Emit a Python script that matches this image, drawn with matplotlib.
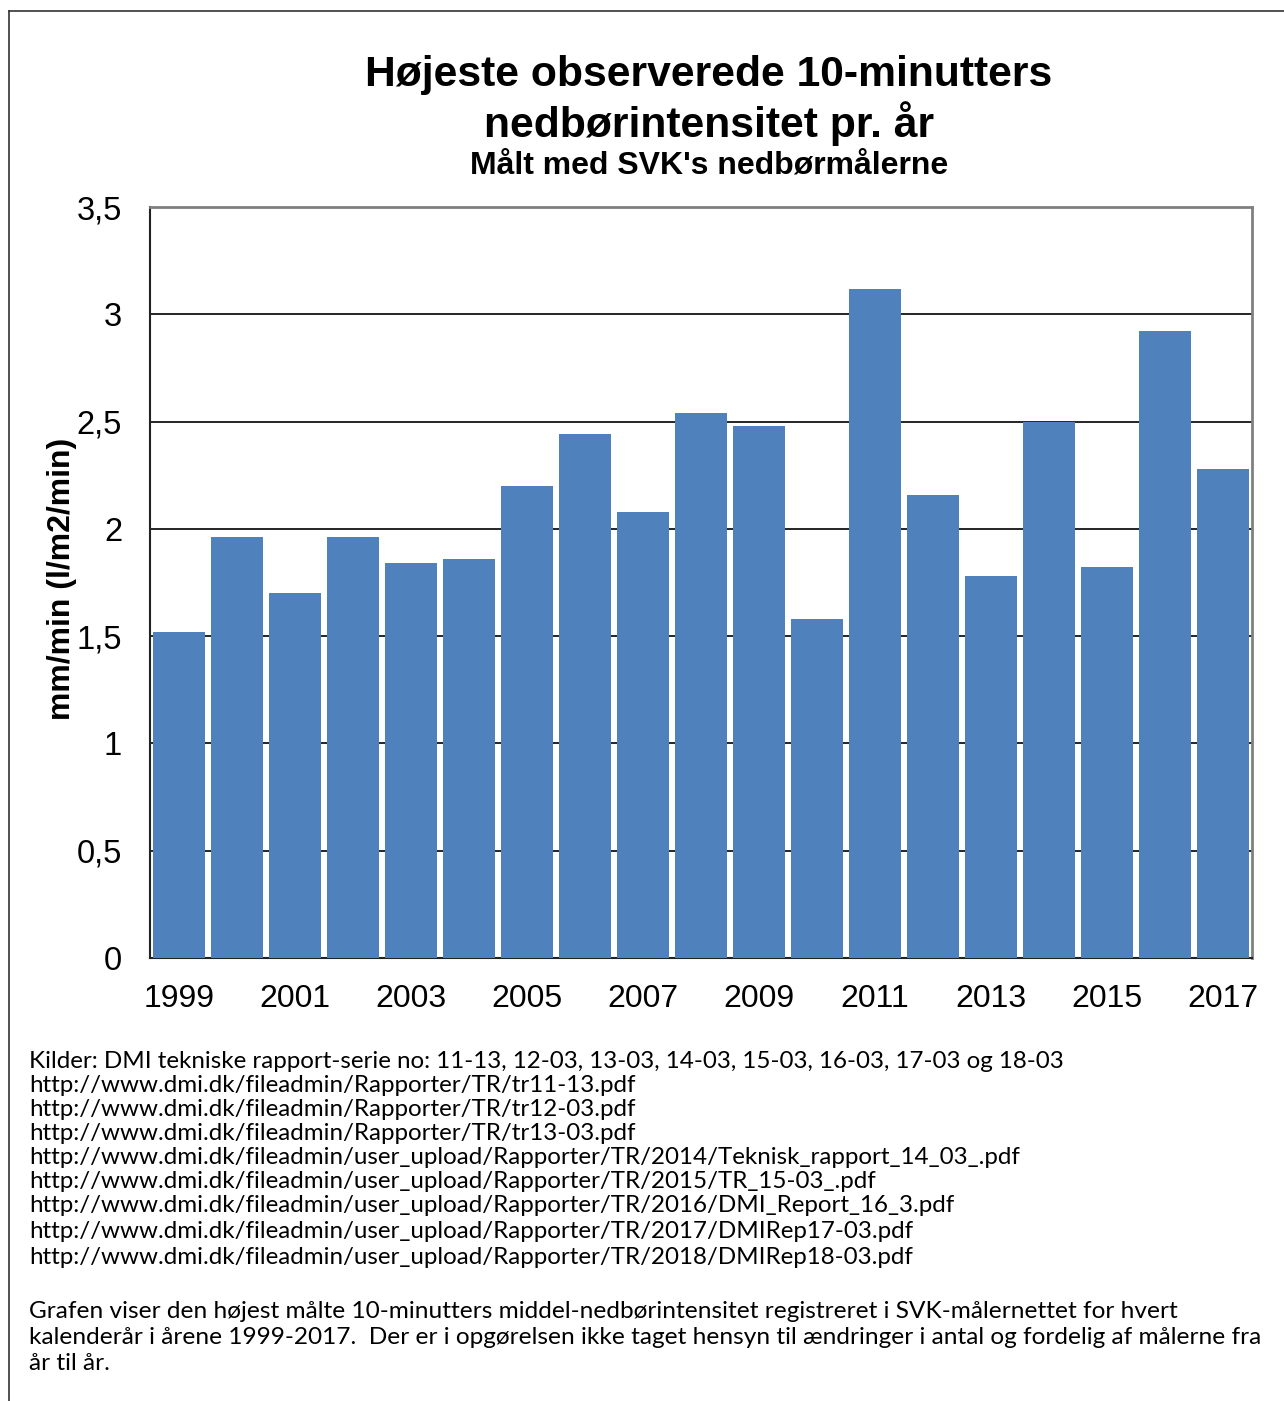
import matplotlib
matplotlib.use("Agg")
import matplotlib.pyplot as plt
from matplotlib.lines import Line2D

# data
years = list(range(1999, 2018))
values = [1.52, 1.96, 1.70, 1.96, 1.84, 1.86, 2.20, 2.44, 2.08, 2.54,
          2.48, 1.58, 3.12, 2.16, 1.78, 2.50, 1.82, 2.92, 2.28]
yticks = [0, 0.5, 1, 1.5, 2, 2.5, 3, 3.5]
ytick_labels = ["0", "0,5", "1", "1,5", "2", "2,5", "3", "3,5"]

title_lines = ["Højeste observerede 10-minutters", "nedbørintensitet pr. år"]
subtitle = "Målt med SVK's nedbørmålerne"
ylabel = "mm/min (l/m2/min)"

source_lines = [
    "Kilder: DMI tekniske rapport-serie no: 11-13, 12-03, 13-03, 14-03, 15-03, 16-03, 17-03 og 18-03",
    "http://www.dmi.dk/fileadmin/Rapporter/TR/tr11-13.pdf",
    "http://www.dmi.dk/fileadmin/Rapporter/TR/tr12-03.pdf",
    "http://www.dmi.dk/fileadmin/Rapporter/TR/tr13-03.pdf",
    "http://www.dmi.dk/fileadmin/user_upload/Rapporter/TR/2014/Teknisk_rapport_14_03_.pdf",
    "http://www.dmi.dk/fileadmin/user_upload/Rapporter/TR/2015/TR_15-03_.pdf",
    "http://www.dmi.dk/fileadmin/user_upload/Rapporter/TR/2016/DMI_Report_16_3.pdf",
    "http://www.dmi.dk/fileadmin/user_upload/Rapporter/TR/2017/DMIRep17-03.pdf",
    "http://www.dmi.dk/fileadmin/user_upload/Rapporter/TR/2018/DMIRep18-03.pdf",
]
note_lines = [
    "Grafen viser den højest målte 10-minutters middel-nedbørintensitet registreret i SVK-målernettet for hvert",
    "kalenderår i årene 1999-2017.  Der er i opgørelsen ikke taget hensyn til ændringer i antal og fordelig af målerne fra",
    "år til år.",
]

W, H = 1284, 1401
plt.rcParams["font.family"] = ["Liberation Sans", "DejaVu Sans"]
fig = plt.figure(figsize=(W / 100, H / 100), dpi=100)

ax = fig.add_axes([150 / W, 1 - 958 / H, (1252 - 150) / W, (958 - 207) / H])
x = range(len(years))
ax.bar(x, values, width=0.9, color="#4F81BD", zorder=3)
ax.set_xlim(-0.5, len(years) - 0.5)
ax.set_ylim(0, 3.5)
ax.set_yticks(yticks)
ax.set_yticklabels(ytick_labels)
ax.set_xticks(list(x)[::2])
ax.set_xticklabels([str(y) for y in years[::2]])
ax.tick_params(axis="both", length=0)
ax.tick_params(axis="y", pad=20, labelsize=23.5)
ax.tick_params(axis="x", pad=19, labelsize=23)
ax.yaxis.grid(True, color="black", linewidth=1.2, zorder=0)
ax.set_axisbelow(True)
for s in ["top", "right"]:
    ax.spines[s].set_color("#808080")
    ax.spines[s].set_linewidth(2)
for s in ["left", "bottom"]:
    ax.spines[s].set_color("#222222")
    ax.spines[s].set_linewidth(1.5)

fig.text(62 / W, 1 - 579 / H, ylabel, rotation=90, ha="center", va="center",
         fontsize=23, fontweight="bold")

fig.text(709 / W, 1 - 75 / H, title_lines[0], ha="center", va="center",
         fontsize=30.7, fontweight="bold")
fig.text(709 / W, 1 - 124 / H, title_lines[1], ha="center", va="center",
         fontsize=30.7, fontweight="bold")
fig.text(709 / W, 1 - 166 / H, subtitle, ha="center", va="center",
         fontsize=23, fontweight="bold")

src_y = [1061, 1085, 1110, 1134, 1158, 1182, 1206, 1232, 1258]
for line, yy in zip(source_lines, src_y):
    fig.text(29 / W, 1 - yy / H, line, ha="left", va="center",
             fontsize=17.4, family=["Lato", "DejaVu Sans"])
note_y = [1311, 1337, 1363]
for line, yy in zip(note_lines, note_y):
    fig.text(29 / W, 1 - yy / H, line, ha="left", va="center",
             fontsize=17.6, family=["Lato", "DejaVu Sans"])

# outer frame (top and left edge only)
fig.add_artist(Line2D([9 / W, 1], [1 - 11 / H, 1 - 11 / H], color="#333333", linewidth=1.2))
fig.add_artist(Line2D([9 / W, 9 / W], [0, 1 - 11 / H], color="#333333", linewidth=1.2))

fig.savefig("out.png", dpi=100)
